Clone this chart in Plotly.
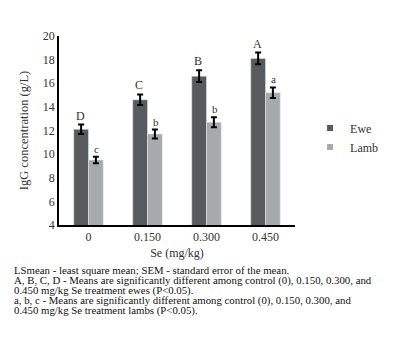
import plotly.graph_objects as go

categories = ["0", "0.150", "0.300", "0.450"]
ewe = [12.1, 14.6, 16.6, 18.1]
ewe_sem = [0.4, 0.45, 0.5, 0.5]
lamb = [9.5, 11.7, 12.7, 15.2]
lamb_sem = [0.28, 0.38, 0.42, 0.45]
ewe_letters = ["D", "C", "B", "A"]
lamb_letters = ["c", "b", "b", "a"]
footnotes = [
    "LSmean - least square mean; SEM - standard error of the mean.",
    "A, B, C, D - Means are significantly different among control (0), 0.150, 0.300, and",
    "0.450 mg/kg Se treatment ewes (P<0.05).",
    "a, b, c - Means are significantly different among control (0), 0.150, 0.300, and",
    "0.450 mg/kg Se treatment lambs (P<0.05).",
]

FONT = "Liberation Serif"
EWE_C = "#575b5e"
LAMB_C = "#a7aaac"

fig = go.Figure()
fig.add_trace(go.Bar(
    x=categories, y=ewe, name="Ewe", marker_color=EWE_C, showlegend=False,
    error_y=dict(type="data", array=ewe_sem, color="black", thickness=2, width=3),
))
fig.add_trace(go.Bar(
    x=categories, y=lamb, name="Lamb", marker_color=LAMB_C, showlegend=False,
    error_y=dict(type="data", array=lamb_sem, color="black", thickness=2, width=3),
))
# legend entries with small square markers
for name, col in (("Ewe", EWE_C), ("Lamb", LAMB_C)):
    fig.add_trace(go.Scatter(x=[None], y=[None], mode="markers", name=name,
                             marker=dict(symbol="square", size=6, color=col)))

PW = 395 - 59 - 70
PH = 353 - 36 - 128
barw = PW / 4 * 0.25
for i, (v, e, t) in enumerate(zip(ewe, ewe_sem, ewe_letters)):
    fig.add_annotation(x=i, y=v + e, text=t, showarrow=False, xshift=-barw / 2,
                       yanchor="bottom", yshift=0, font=dict(family=FONT, size=12, color="#333"))
for i, (v, e, t) in enumerate(zip(lamb, lamb_sem, lamb_letters)):
    fig.add_annotation(x=i, y=v + e, text=t, showarrow=False, xshift=barw / 2,
                       yanchor="bottom", yshift=0, font=dict(family=FONT, size=11, color="#333"))

for i, line in enumerate(footnotes):
    fig.add_annotation(xref="paper", yref="paper", x=(7 - 59) / PW, y=0,
                       xanchor="left", yanchor="middle", yshift=-(270 - 225 + 10 * i),
                       text=line, showarrow=False, align="left", borderpad=0,
                       font=dict(family=FONT, size=10.8, color="#111"))

fig.update_layout(
    width=395, height=353,
    margin=dict(l=59, r=70, t=36, b=128),
    paper_bgcolor="white", plot_bgcolor="white",
    barmode="group", bargap=0.5, bargroupgap=0,
    font=dict(family=FONT, size=12, color="#333"),
    legend=dict(x=(342 - 59) / PW, y=(225 - 137.5) / PH, xanchor="left", yanchor="middle",
                font=dict(family=FONT, size=12, color="#333"),
                itemwidth=30, tracegroupgap=0, bgcolor="rgba(0,0,0,0)"),
    showlegend=True,
)
fig.update_xaxes(showline=True, linecolor="black", linewidth=1.5, ticks="",
                 title=dict(text="Se (mg/kg)", standoff=5, font=dict(family=FONT, size=12)),
                 tickfont=dict(family=FONT, size=12))
fig.update_yaxes(range=[4, 20], dtick=2, showline=True, linecolor="black", linewidth=1.5,
                 showgrid=False, zeroline=False, ticks="",
                 title=dict(text="IgG concentration (g/L)", standoff=11, font=dict(family=FONT, size=12.5)),
                 tickfont=dict(family=FONT, size=12))

fig.write_html("out.html")
